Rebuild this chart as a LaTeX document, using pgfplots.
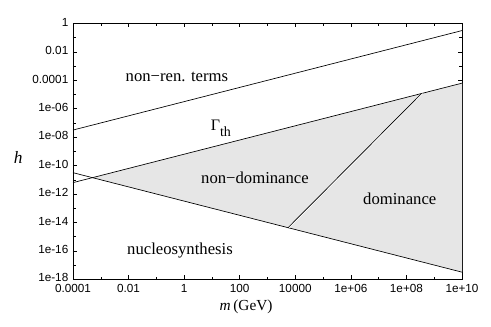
\documentclass[border=0pt]{standalone}
\usepackage{pgfplots}
\pgfplotsset{compat=1.18}
\usepackage{fontspec}
\setmainfont{Liberation Serif}
\setsansfont{Liberation Sans}
\definecolor{regiongray}{HTML}{E6E6E6}
\begin{document}
\begin{tikzpicture}
\useasboundingbox (0,0) rectangle (368.25pt,245.25pt);
\begin{axis}[
  at={(54.75pt,35.8pt)}, anchor=south west,
  scale only axis, width=291.75pt, height=191.85pt,
  xmode=log, ymode=log,
  xmin=1e-4, xmax=1e10, ymin=1e-18, ymax=1,
  xtick={1e-4,1e-2,1,1e2,1e4,1e6,1e8,1e10},
  xticklabels={0.0001,0.01,1,100,10000,1e+06,1e+08,1e+10},
  ytick={1e-18,1e-16,1e-14,1e-12,1e-10,1e-8,1e-6,1e-4,1e-2,1},
  yticklabels={1e-18,1e-16,1e-14,1e-12,1e-10,1e-08,1e-06,0.0001,0.01,1},
  minor xtick={1e-3,1e-1,10,1e3,1e5,1e7,1e9},
  minor ytick={1e-17,1e-15,1e-13,1e-11,1e-9,1e-7,1e-5,1e-3,1e-1},
  tick align=inside, major tick length=3pt, minor tick length=2pt,
  tick style={black, line width=0.4pt},
  axis line style={line width=0.5pt},
  tick label style={font=\sffamily\fontsize{8.8}{10}\selectfont},
  yticklabel style={yshift=1pt},
  clip mode=individual,
  xlabel={\textit{m}\,(GeV)},
  xlabel style={font=\fontsize{11.5}{13}\selectfont, at={(rel axis cs:0.445,-0.108)}, anchor=center},
  ylabel={\textit{h}},
  ylabel style={font=\fontsize{13}{15}\selectfont, rotate=-90, at={(rel axis cs:-0.141,0.478)}, anchor=center},
]
% shaded region between Gamma_th and nucleosynthesis lines
\addplot[fill=regiongray, draw=none] coordinates {(5.01e-4,1.41e-11) (1e10,6.31e-5) (1e10,3.16e-18)} -- cycle;
% non-renormalisable terms
\addplot[black, line width=0.5pt] coordinates {(1e-4,3.16e-8) (1e10,0.316)};
% Gamma_th
\addplot[black, line width=0.5pt] coordinates {(1e-4,6.31e-12) (1e10,6.31e-5)};
% nucleosynthesis
\addplot[black, line width=0.5pt] coordinates {(1e-4,3.16e-11) (1e10,3.16e-18)};
% dominance boundary
\addplot[white, line width=0.6pt, xshift=0.8pt] coordinates {(5.5e3,4.27e-15) (3.47e8,1.17e-5)};
\addplot[black, line width=0.5pt] coordinates {(5.5e3,4.27e-15) (3.47e8,1.17e-5)};

\node[font=\fontsize{12.5}{14}\selectfont] at (axis cs:0.55,1.7e-4) {non−ren. terms};
\node[font=\fontsize{12}{14}\selectfont] at (axis cs:21,4.4e-8) {Γ\raisebox{-4.5pt}{\fontsize{10.5}{12}\selectfont th}};
\node[font=\fontsize{12.5}{14}\selectfont] at (axis cs:355,1.3e-11) {non−dominance};
\node[font=\fontsize{12.5}{14}\selectfont] at (axis cs:5.75e7,4.4e-13) {dominance};
\node[font=\fontsize{12.5}{14}\selectfont] at (axis cs:0.71,1.1e-16) {nucleosynthesis};
\end{axis}
\end{tikzpicture}
\end{document}
